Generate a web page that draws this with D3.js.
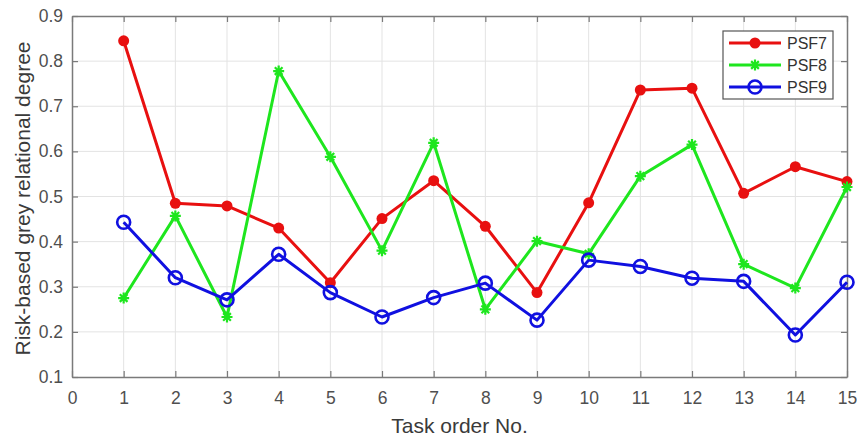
<!DOCTYPE html>
<html><head><meta charset="utf-8">
<script src="https://cdn.jsdelivr.net/npm/d3@7"></script>
<style>body{margin:0;background:#fff}svg{display:block}</style>
</head><body><svg id="c" width="857" height="438"></svg>
<script>
const tasks = [1,2,3,4,5,6,7,8,9,10,11,12,13,14,15];
const psf7 = [0.845,0.485,0.479,0.430,0.309,0.451,0.535,0.434,0.287,0.486,0.736,0.740,0.507,0.566,0.533];
const psf8 = [0.275,0.457,0.233,0.778,0.588,0.380,0.619,0.250,0.401,0.373,0.545,0.615,0.350,0.297,0.521];
const psf9 = [0.443,0.320,0.271,0.372,0.287,0.233,0.276,0.308,0.226,0.359,0.345,0.319,0.312,0.193,0.310];
const xTicks = [0,1,2,3,4,5,6,7,8,9,10,11,12,13,14,15];
const yTicks = [0.1,0.2,0.3,0.4,0.5,0.6,0.7,0.8,0.9];
const seriesNames = ["PSF7","PSF8","PSF9"];
const seriesColors = ["#e81010","#1ee61e","#1010e0"];

const svg = d3.select("#c");
const L=72, R=847, T=16, B=377;
const x = d3.scaleLinear().domain([0,15]).range([L,R]);
const y = d3.scaleLinear().domain([0.1,0.9]).range([B,T]);
const gridC="#e3e3e3", axC="#7a7a7a", txtC="#4f4f4f";
const FONT="Liberation Sans, Arial, sans-serif";

// grid
svg.append("g").selectAll("line").data(xTicks.slice(1,-1)).join("line")
  .attr("x1",d=>x(d)).attr("x2",d=>x(d)).attr("y1",T).attr("y2",B)
  .attr("stroke",gridC).attr("stroke-width",1);
svg.append("g").selectAll("line").data(yTicks.slice(1,-1)).join("line")
  .attr("y1",d=>y(d)).attr("y2",d=>y(d)).attr("x1",L).attr("x2",R)
  .attr("stroke",gridC).attr("stroke-width",1);

// axes
const fmt = d3.format(".1f");
const ax = svg.append("g").attr("transform",`translate(0,${B})`)
  .call(d3.axisBottom(x).tickValues(xTicks).tickSizeInner(-6).tickSizeOuter(0).tickPadding(15).tickFormat(d3.format("d")));
const ay = svg.append("g").attr("transform",`translate(${L},0)`)
  .call(d3.axisLeft(y).tickValues(yTicks).tickSizeInner(-6).tickSizeOuter(0).tickPadding(9).tickFormat(fmt));
const at = svg.append("g").attr("transform",`translate(0,${T})`)
  .call(d3.axisTop(x).tickValues(xTicks).tickSizeInner(-6).tickSizeOuter(0).tickFormat(""));
const ar = svg.append("g").attr("transform",`translate(${R},0)`)
  .call(d3.axisRight(y).tickValues(yTicks).tickSizeInner(-6).tickSizeOuter(0).tickFormat(""));
[ax,ay,at,ar].forEach(g=>{
  g.selectAll(".domain").attr("stroke",axC).attr("stroke-width",1.5);
  g.selectAll(".tick line").attr("stroke",axC).attr("stroke-width",1.2);
  g.selectAll(".tick text").attr("fill",txtC).attr("font-family",FONT).attr("font-size",17.5);
});

// lines
const data = [psf7,psf8,psf9];
const line = d3.line().x((d,i)=>x(tasks[i])).y(d=>y(d));
data.forEach((s,k)=>{
  svg.append("path").datum(s).attr("d",line).attr("fill","none")
    .attr("stroke",seriesColors[k]).attr("stroke-width",3).attr("stroke-linejoin","round");
});
function marker(g,k,cx,cy){
  const c=seriesColors[k];
  if(k===0){ g.append("circle").attr("cx",cx).attr("cy",cy).attr("r",5.5).attr("fill",c); }
  else if(k===1){
    const s=5.5;
    g.append("path").attr("d",`M${cx-s},${cy}L${cx+s},${cy}M${cx},${cy-s}L${cx},${cy+s}M${cx-s*0.7},${cy-s*0.7}L${cx+s*0.7},${cy+s*0.7}M${cx-s*0.7},${cy+s*0.7}L${cx+s*0.7},${cy-s*0.7}`)
      .attr("stroke",c).attr("stroke-width",2.2).attr("fill","none");
  } else {
    g.append("circle").attr("cx",cx).attr("cy",cy).attr("r",6.5).attr("fill","none").attr("stroke",c).attr("stroke-width",2.6);
  }
}
data.forEach((s,k)=>{
  const g=svg.append("g");
  s.forEach((v,i)=>marker(g,k,x(tasks[i]),y(v)));
});

// legend
const lg = svg.append("g");
lg.append("rect").attr("x",723).attr("y",31).attr("width",110).attr("height",68)
  .attr("fill","#fff").attr("stroke","#555").attr("stroke-width",1.2);
seriesNames.forEach((n,k)=>{
  const yy = 43 + k*22;
  lg.append("line").attr("x1",729).attr("x2",781).attr("y1",yy).attr("y2",yy)
    .attr("stroke",seriesColors[k]).attr("stroke-width",3);
  marker(lg,k,755,yy);
  lg.append("text").attr("x",787).attr("y",yy+5.5).text(n)
    .attr("font-family",FONT).attr("font-size",16).attr("fill","#333");
});

// labels
svg.append("text").attr("x",(L+R)/2).attr("y",433).attr("text-anchor","middle")
  .attr("font-family",FONT).attr("font-size",21).attr("fill","#3a3a3a")
  .text("Task order No.");
svg.append("text").attr("transform",`translate(30,${(T+B)/2 + 2}) rotate(-90)`).attr("text-anchor","middle")
  .attr("font-family",FONT).attr("font-size",21).attr("fill","#3a3a3a")
  .text("Risk-based grey relational degree");
</script></body></html>
